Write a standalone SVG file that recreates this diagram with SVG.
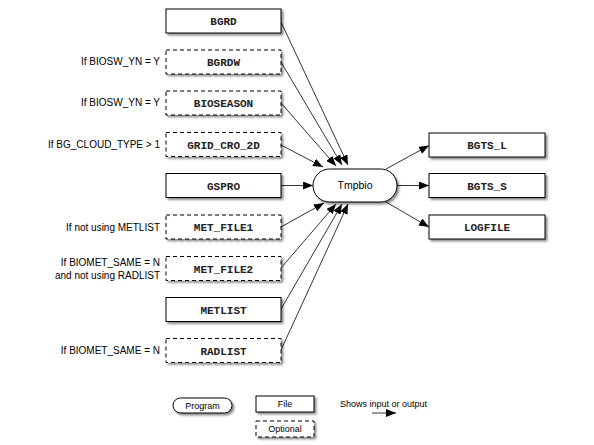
<svg xmlns="http://www.w3.org/2000/svg" width="594" height="445" viewBox="0 0 594 445">
<defs>
<filter id="sh" x="-10%" y="-30%" width="130%" height="180%">
<feDropShadow dx="2" dy="2" stdDeviation="1.2" flood-color="#000" flood-opacity="0.45"/>
</filter>
<marker id="ah" viewBox="0 0 10 8" refX="10" refY="4" markerWidth="10" markerHeight="8" markerUnits="userSpaceOnUse" orient="auto">
<path d="M0,0 L10,4 L0,8 Z" fill="#000"/>
</marker>
</defs>
<style>
.f{fill:#fff;stroke:#000;stroke-width:1;filter:url(#sh)}
.o{fill:#fff;stroke:#000;stroke-width:1;stroke-dasharray:4,3;filter:url(#sh)}
.t{font-family:"Liberation Mono",monospace;font-size:11px;font-weight:bold;text-anchor:middle;fill:#222}
.l{font-family:"Liberation Sans",Arial,sans-serif;font-size:10px;text-anchor:end;fill:#000}
.p{font-family:"Liberation Sans",Arial,sans-serif;font-size:10.5px;text-anchor:middle;fill:#000}
.g{font-family:"Liberation Sans",Arial,sans-serif;font-size:9px;fill:#000}
.c line{stroke:#000;stroke-width:0.8;marker-end:url(#ah)}
</style>
<rect width="594" height="445" fill="#fff"/>

<g id="labels">
<text class="l" x="160" y="65">If BIOSW_YN = Y</text>
<text class="l" x="160" y="106">If BIOSW_YN = Y</text>
<text class="l" x="160" y="147.5">If BG_CLOUD_TYPE &gt; 1</text>
<text class="l" x="160" y="231">If not using METLIST</text>
<text class="l" x="160" y="266">If BIOMET_SAME = N</text>
<text class="l" x="160" y="279">and not using RADLIST</text>
<text class="l" x="160" y="354">If BIOMET_SAME = N</text>
</g>

<g class="c" id="connectors">
<line x1="281" y1="22" x2="348" y2="165"/>
<line x1="281" y1="62" x2="342" y2="165"/>
<line x1="281" y1="103" x2="336" y2="166"/>
<line x1="281" y1="145" x2="323" y2="167"/>
<line x1="281" y1="185.5" x2="313" y2="185.5"/>
<line x1="281" y1="227" x2="324" y2="203"/>
<line x1="281" y1="268" x2="336" y2="204"/>
<line x1="281" y1="309" x2="342" y2="204"/>
<line x1="281" y1="350" x2="348" y2="204"/>
<line x1="386" y1="169" x2="429" y2="145.5"/>
<line x1="397" y1="185.5" x2="429" y2="185.5"/>
<line x1="386" y1="202" x2="429" y2="227"/>
</g>

<g id="BGRD"><rect class="f" x="166" y="9" width="115" height="24"/><text class="t" x="223.5" y="25">BGRD</text></g>
<g id="BGRDW"><rect class="o" x="166" y="50" width="115" height="24"/><text class="t" x="223.5" y="66">BGRDW</text></g>
<g id="BIOSEASON"><rect class="o" x="166" y="91" width="115" height="24"/><text class="t" x="223.5" y="107">BIOSEASON</text></g>
<g id="GRID_CRO_2D"><rect class="o" x="166" y="132.5" width="115" height="24"/><text class="t" x="223.5" y="148.5">GRID_CRO_2D</text></g>
<g id="GSPRO"><rect class="f" x="166" y="173.5" width="115" height="24"/><text class="t" x="223.5" y="189.5">GSPRO</text></g>
<g id="MET_FILE1"><rect class="o" x="166" y="215" width="115" height="24"/><text class="t" x="223.5" y="231">MET_FILE1</text></g>
<g id="MET_FILE2"><rect class="o" x="166" y="256.5" width="115" height="24"/><text class="t" x="223.5" y="272.5">MET_FILE2</text></g>
<g id="METLIST"><rect class="f" x="166" y="297.5" width="115" height="24"/><text class="t" x="223.5" y="313.5">METLIST</text></g>
<g id="RADLIST"><rect class="o" x="166" y="338.5" width="115" height="24"/><text class="t" x="223.5" y="354.5">RADLIST</text></g>

<g id="Tmpbio"><rect class="f" x="313" y="169" width="84" height="33" rx="16.5" ry="16.5"/><text class="p" x="355" y="189">Tmpbio</text></g>

<g id="BGTS_L"><rect class="f" x="429" y="133" width="116" height="24"/><text class="t" x="487" y="149">BGTS_L</text></g>
<g id="BGTS_S"><rect class="f" x="429" y="173.5" width="116" height="24"/><text class="t" x="487" y="189.5">BGTS_S</text></g>
<g id="LOGFILE"><rect class="f" x="429" y="215" width="116" height="24"/><text class="t" x="487" y="231">LOGFILE</text></g>

<g id="legend">
<rect class="f" x="173" y="398" width="59" height="15" rx="7.5" ry="7.5"/>
<text class="g" x="202.5" y="408.5" text-anchor="middle">Program</text>
<rect class="f" x="256" y="396" width="58" height="16"/>
<text class="g" x="285" y="407" text-anchor="middle">File</text>
<rect class="o" x="256" y="421" width="58" height="16"/>
<text class="g" x="285" y="432" text-anchor="middle">Optional</text>
<text class="g" x="340" y="407" font-size="8.5">Shows input or output</text>
<line x1="372" y1="413" x2="396" y2="413" stroke="#555" stroke-width="1.2" marker-end="url(#ah)"/>
</g>
</svg>
